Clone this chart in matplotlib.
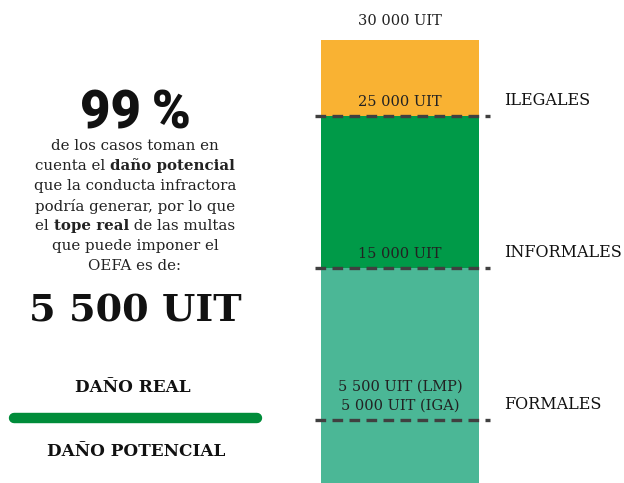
import matplotlib.pyplot as plt

# Stacked bar: ceilings (UIT) for each type of operator
seg_bottoms = [0, 15000, 25000]
seg_tops = [15000, 25000, 30000]
seg_colors = ['#4bb796', '#009a48', '#f9b233']

# Dashed thresholds and their category labels
levels = [5000, 15000, 25000]
categories = ['FORMALES', 'INFORMALES', 'ILEGALES']

# Value labels written on the bar
value_pos = [30000, 25000, 15000, 5000]
value_labels = ['30 000 UIT', '25 000 UIT', '15 000 UIT', '5 500 UIT (LMP)\n5 000 UIT (IGA)']

# Left panel text
big_pct = '99\u2009%'
para = [
    [('de los casos toman en', False)],
    [('cuenta el ', False), ('daño potencial', True)],
    [('que la conducta infractora', False)],
    [('podría generar, por lo que', False)],
    [('el ', False), ('tope real', True), (' de las multas', False)],
    [('que puede imponer el', False)],
    [('OEFA es de:', False)],
]
big_uit = '5 500 UIT'

serif = 'DejaVu Serif'
txt = '#222222'

fig = plt.figure(figsize=(6.24, 4.83), dpi=100)

# bar axes: x in pixels, y in UIT
ax = fig.add_axes([0, 0, 1, 1])
ax.set_xlim(0, 624)
ax.set_ylim(850, 32650)
ax.axis('off')

for b, t, c in zip(seg_bottoms, seg_tops, seg_colors):
    ax.bar(400, t - b, bottom=b, width=158, color=c, linewidth=0)

ax.hlines(levels, 315, 490, colors='#404040', linestyles=(0, (3.2, 1.9)), linewidth=2.4)

offsets = [9, 5, 5, 5]
for v, lab, off in zip(value_pos, value_labels, offsets):
    ax.annotate(lab, (400, v), xytext=(0, off), textcoords='offset points',
                ha='center', va='bottom', fontsize=10.5, family=serif,
                color=txt, linespacing=1.45)

for v, lab in zip(levels, categories):
    ax.annotate(lab, (504, v), xytext=(0, 5), textcoords='offset points',
                ha='left', va='bottom', fontsize=11.5, family=serif, color='#111111')

# layout axes in pixel coordinates for the left panel
lay = fig.add_axes([0, 0, 1, 1], facecolor='none')
lay.set_xlim(0, 624)
lay.set_ylim(483, 0)
lay.axis('off')

lay.text(135, 114, big_pct, ha='center', va='center', fontsize=38,
         family='Roboto', fontweight='black', color='#111111')

r = fig.canvas.get_renderer()
y = 146
for parts in para:
    texts = []
    for s, bold in parts:
        t = lay.text(0, y, s, ha='left', va='center', fontsize=10.8, family=serif,
                     fontweight='bold' if bold else 'normal', color=txt)
        texts.append(t)
    widths = [t.get_window_extent(r).width for t in texts]
    cur = 135 - sum(widths) / 2
    for t, w in zip(texts, widths):
        t.set_x(cur)
        cur += w
    y += 20

lay.text(135, 311, big_uit, ha='center', va='center', fontsize=27.5,
         family=serif, fontweight='bold', color='#111111')

lay.text(133, 387, 'DAÑO REAL', ha='center', va='center', fontsize=12.2,
         family=serif, fontweight='bold', color='#111111')
lay.plot([14, 257], [418, 418], color='#008c3a', linewidth=7.5, solid_capstyle='round')
lay.text(136, 452, 'DAÑO POTENCIAL', ha='center', va='center', fontsize=12.2,
         family=serif, fontweight='bold', color='#111111')

fig.savefig('out.png', dpi=100)
